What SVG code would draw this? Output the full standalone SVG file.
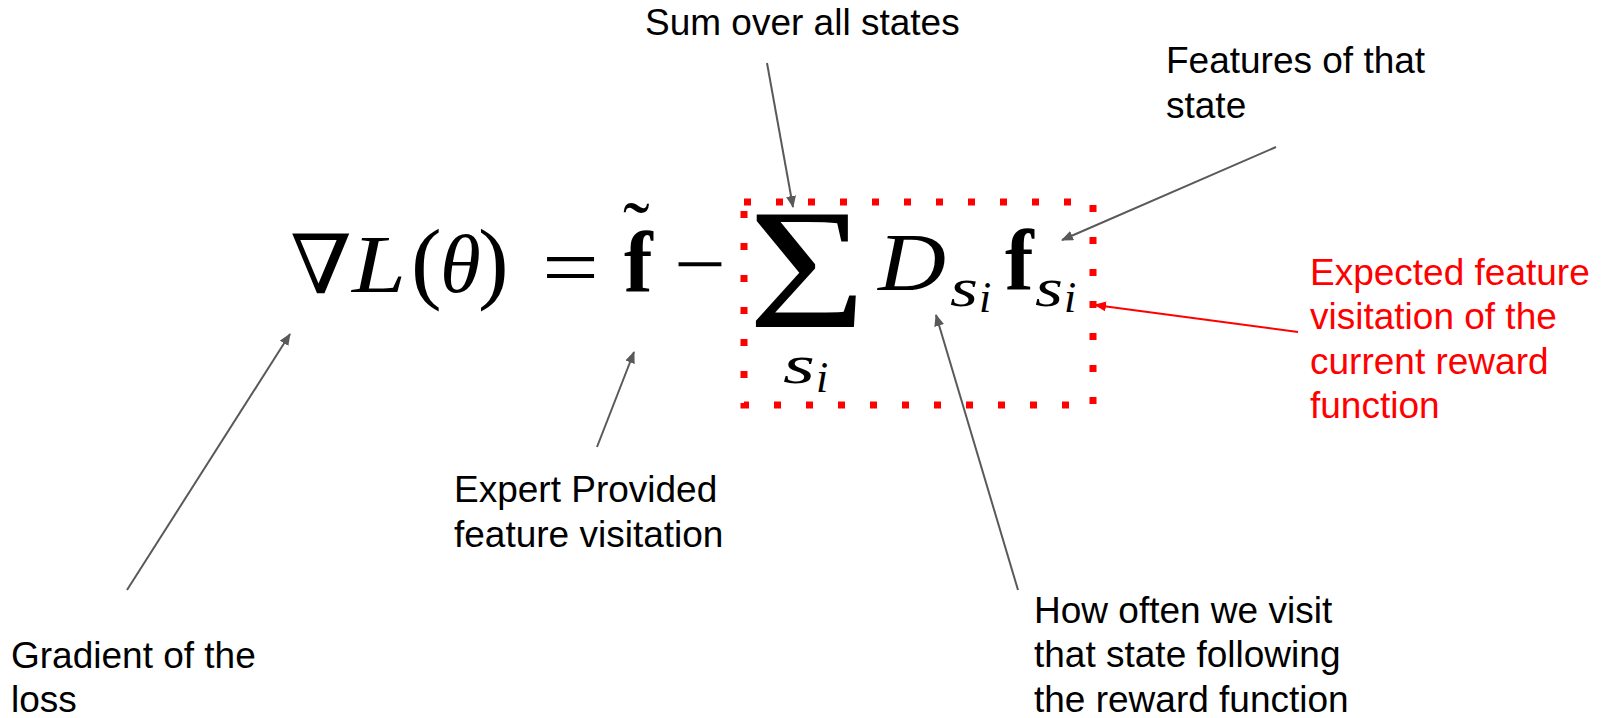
<svg xmlns="http://www.w3.org/2000/svg" width="1613" height="718" viewBox="0 0 1613 718">
<defs>
<style>
.lbl{font-family:"Liberation Sans",Arial,sans-serif;font-size:37px;fill:#000}
.red{fill:#ff0000}
.m{font-family:"Liberation Serif","DejaVu Serif",serif;fill:#000}
.it{font-style:italic}
.bf{font-weight:bold}
.conn{stroke:#595959;stroke-width:2;fill:none}
.connr{stroke:#ff0000;stroke-width:2;fill:none}
</style>
<marker id="ag" viewBox="0 0 12 10" refX="11" refY="5" markerWidth="12" markerHeight="10" markerUnits="userSpaceOnUse" orient="auto">
<path d="M0,0 L12,5 L0,10 Z" fill="#595959"/>
</marker>
<marker id="ar" viewBox="0 0 12 10" refX="11" refY="5" markerWidth="12" markerHeight="10" markerUnits="userSpaceOnUse" orient="auto">
<path d="M0,0 L12,5 L0,10 Z" fill="#ff0000"/>
</marker>
</defs>
<rect width="1613" height="718" fill="#ffffff"/>

<g id="formula">
<text class="m" x="290" y="293" font-size="82" textLength="62" lengthAdjust="spacingAndGlyphs">∇</text>
<text class="m it" x="352" y="292" font-size="83" textLength="54" lengthAdjust="spacingAndGlyphs">L</text>
<text class="m" x="411" y="292" font-size="92">(</text>
<text class="m it" x="440" y="292" font-size="83">θ</text>
<text class="m" x="478" y="292" font-size="92">)</text>
<text class="m" x="542" y="295" font-size="83" textLength="57" lengthAdjust="spacingAndGlyphs">=</text>
<text class="m bf" x="624" y="292" font-size="86">f</text>
<text class="m" x="623" y="257" font-size="80">˜</text>
<text class="m" x="674" y="292" font-size="83" textLength="52" lengthAdjust="spacingAndGlyphs">−</text>
<text class="m" x="748" y="327" font-size="172" textLength="118" lengthAdjust="spacingAndGlyphs">Σ</text>
<text class="m it" x="783" y="383" font-size="54" textLength="32" lengthAdjust="spacingAndGlyphs">s</text>
<text class="m it" x="816" y="392" font-size="44">i</text>
<text class="m it" x="878" y="290" font-size="83" textLength="68" lengthAdjust="spacingAndGlyphs">D</text>
<text class="m it" x="950" y="306" font-size="54" textLength="28" lengthAdjust="spacingAndGlyphs">s</text>
<text class="m it" x="979" y="312" font-size="44">i</text>
<text class="m bf" x="1005" y="290" font-size="86">f</text>
<text class="m it" x="1035" y="306" font-size="54" textLength="28" lengthAdjust="spacingAndGlyphs">s</text>
<text class="m it" x="1064" y="312" font-size="44">i</text>
</g>

<g id="highlight-box">
<rect x="744" y="202" width="349" height="203" fill="none" stroke="#ff0000" stroke-width="7" stroke-dasharray="7 25"/>
</g>

<g id="label-sum"><text class="lbl" x="645" y="35">Sum over all states</text></g>
<g id="label-features"><text class="lbl" x="1166" y="73">Features of that</text><text class="lbl" x="1166" y="118">state</text></g>
<g id="label-expected"><text class="lbl red" x="1310" y="285">Expected feature</text><text class="lbl red" x="1310" y="329">visitation of the</text><text class="lbl red" x="1310" y="374">current reward</text><text class="lbl red" x="1310" y="418">function</text></g>
<g id="label-expert"><text class="lbl" x="454" y="502">Expert Provided</text><text class="lbl" x="454" y="547">feature visitation</text></g>
<g id="label-gradient"><text class="lbl" x="11" y="668">Gradient of the</text><text class="lbl" x="11" y="712">loss</text></g>
<g id="label-howoften"><text class="lbl" x="1034" y="623">How often we visit</text><text class="lbl" x="1034" y="667">that state following</text><text class="lbl" x="1034" y="712">the reward function</text></g>

<g id="connectors">
<line class="conn" x1="767" y1="63" x2="793" y2="207" marker-end="url(#ag)"/>
<line class="conn" x1="1276" y1="147" x2="1062" y2="240" marker-end="url(#ag)"/>
<line class="connr" x1="1298" y1="332" x2="1095" y2="305" marker-end="url(#ar)"/>
<line class="conn" x1="1018" y1="590" x2="936" y2="315" marker-end="url(#ag)"/>
<line class="conn" x1="597" y1="447" x2="634" y2="352" marker-end="url(#ag)"/>
<line class="conn" x1="127" y1="590" x2="290" y2="334" marker-end="url(#ag)"/>
</g>
</svg>
